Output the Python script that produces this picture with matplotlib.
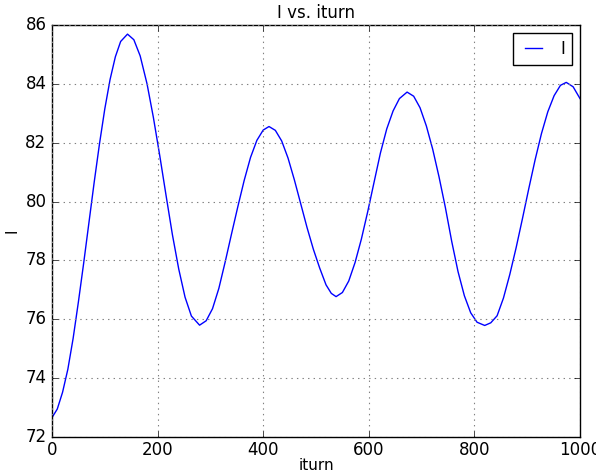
import matplotlib
matplotlib.use("Agg")
import matplotlib.pyplot as plt

plt.style.use("classic")

# Turn number and the tracked quantity I along the run
iturn = [0, 10, 20, 30, 40, 50, 60, 70, 80, 90, 100, 110, 120, 130, 143,
         155, 167, 180, 192, 204, 216, 228, 240, 252, 264, 279.5,
         292, 304, 316, 328, 340, 352, 364, 376, 388, 400, 411,
         423, 435, 447, 459, 471, 483, 495, 507, 519, 529, 538,
         550, 562, 574, 586, 598, 610, 622, 634, 646, 658, 672.5,
         685, 697, 709, 721, 733, 745, 757, 769, 781, 793, 805, 819.5,
         831, 843, 855, 867, 879, 891, 903, 915, 927, 939, 951, 963, 974,
         987, 1000]
I = [72.66, 72.95, 73.52, 74.30, 75.35, 76.59, 77.91, 79.29, 80.67, 81.97,
     83.15, 84.15, 84.92, 85.44, 85.69,
     85.50, 84.95, 84.00, 82.86, 81.57, 80.21, 78.88, 77.71, 76.75, 76.11, 75.80,
     75.95, 76.36, 77.05, 77.95, 78.90, 79.83, 80.72, 81.50, 82.08, 82.43, 82.55,
     82.42, 82.06, 81.48, 80.74, 79.93, 79.12, 78.38, 77.74, 77.17, 76.88, 76.77,
     76.91, 77.30, 77.93, 78.73, 79.66, 80.66, 81.65, 82.47, 83.08, 83.50, 83.72,
     83.58, 83.19, 82.57, 81.78, 80.84, 79.80, 78.65, 77.62, 76.80, 76.22, 75.90, 75.79,
     75.88, 76.12, 76.72, 77.52, 78.43, 79.42, 80.44, 81.42, 82.31, 83.05, 83.60, 83.95, 84.05,
     83.90, 83.50]

fig = plt.figure(figsize=(5.96, 4.70), dpi=100)
ax = fig.add_axes([52 / 596, 33 / 470, 528 / 596, 412 / 470])

ax.plot(iturn, I, color="b", linewidth=1.0, label="I")

ax.set_xlim(0, 1000)
ax.set_ylim(72, 86)
ax.set_xticks([0, 200, 400, 600, 800, 1000])
ax.set_yticks([72, 74, 76, 78, 80, 82, 84, 86])
ax.tick_params(labelsize=12)
ax.tick_params(axis="x", pad=3)
ax.grid(True, color="gray", linestyle=":", linewidth=0.8)

ax.set_title("I vs. iturn", fontsize=12)
ax.set_xlabel("iturn", fontsize=11, labelpad=-1)
ax.set_ylabel("I", fontsize=11, labelpad=4)

ax.legend(loc="upper right", fontsize=12, handlelength=1.6, numpoints=2,
          borderaxespad=0.5, fancybox=False)

fig.savefig("out.png", dpi=100)
